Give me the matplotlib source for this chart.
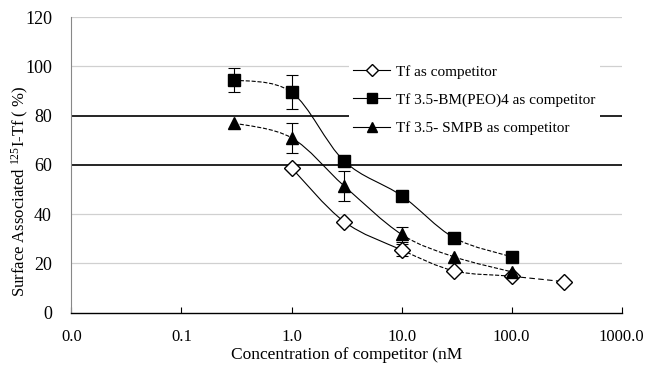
import numpy as np
import matplotlib
matplotlib.use("Agg")
import matplotlib.pyplot as plt
from matplotlib.path import Path
from matplotlib.patches import PathPatch
from matplotlib.lines import Line2D

plt.rcParams['font.family'] = ['Liberation Serif', 'DejaVu Serif']
plt.rcParams['mathtext.fontset'] = 'custom'
plt.rcParams['mathtext.rm'] = 'Liberation Serif'
plt.rcParams['mathtext.it'] = 'Liberation Serif:italic'

# ---------- data ----------
tf_conc = [1, 3, 10, 30, 100, 300]
tf_val = [58.8, 37.0, 25.5, 17.0, 14.8, 12.6]
tf_err = [0, 0, 2.5, 0, 0, 0]
tf_styles = ['-', '-', '--', '--', (0, (5, 3))]

bm_conc = [0.3, 1, 3, 10, 30, 100]
bm_val = [94.5, 89.5, 61.6, 47.5, 30.4, 22.7]
bm_err = [5.0, 7.0, 0, 0, 0, 0]
bm_styles = ['--', '-', '-', '-', '--']

smpb_conc = [0.3, 1, 3, 10, 30, 100]
smpb_val = [77.0, 71.0, 51.5, 31.8, 22.7, 16.6]
smpb_err = [0, 6.0, 6.0, 3.0, 0, 0]
smpb_styles = ['--', '-', '-', '--', '--']

labels = ["Tf as competitor", "Tf 3.5-BM(PEO)4 as competitor", "Tf 3.5- SMPB as competitor"]
xticks = [0.01, 0.1, 1, 10, 100, 1000]
xticklabels = ["0.0", "0.1", "1.0", "10.0", "100.0", "1000.0"]
yticks = [0, 20, 40, 60, 80, 100, 120]


def smooth_segments(ax, xs, ys, styles):
    # Excel style smoothed line: Catmull-Rom -> cubic bezier in log-x space
    lx = np.log10(xs)
    y = np.asarray(ys, dtype=float)
    n = len(lx)
    for i in range(n - 1):
        p0 = (lx[max(i - 1, 0)], y[max(i - 1, 0)])
        p1 = (lx[i], y[i])
        p2 = (lx[i + 1], y[i + 1])
        p3 = (lx[min(i + 2, n - 1)], y[min(i + 2, n - 1)])
        c1 = (p1[0] + (p2[0] - p0[0]) / 6, p1[1] + (p2[1] - p0[1]) / 6)
        c2 = (p2[0] - (p3[0] - p1[0]) / 6, p2[1] - (p3[1] - p1[1]) / 6)
        verts = [(10 ** p[0], p[1]) for p in (p1, c1, c2, p2)]
        path = Path(verts, [Path.MOVETO, Path.CURVE4, Path.CURVE4, Path.CURVE4])
        ax.add_patch(PathPatch(path, facecolor='none', edgecolor='black',
                               lw=0.8, linestyle=styles[i], zorder=2))


fig = plt.figure(figsize=(6.49, 3.71), dpi=100)
ax = fig.add_axes([0.110, 0.157, 0.848, 0.797])

ax.set_xscale('log')
ax.set_xlim(0.01, 1000)
ax.set_ylim(0, 120)

# grid lines (60 and 80 appear dark in the original)
for yv in yticks[1:]:
    if yv in (60, 80):
        ax.axhline(yv, color='black', lw=1.2, zorder=0)
    else:
        ax.axhline(yv, color='#d0d0d0', lw=0.9, zorder=0)

series = [
    (tf_conc, tf_val, tf_err, tf_styles, dict(marker='D', ms=8, mfc='white', mec='black', mew=1.0)),
    (bm_conc, bm_val, bm_err, bm_styles, dict(marker='s', ms=9, mfc='black', mec='black')),
    (smpb_conc, smpb_val, smpb_err, smpb_styles, dict(marker='^', ms=9, mfc='black', mec='black')),
]

for xs, ys, errs, styles, mk in series:
    smooth_segments(ax, xs, ys, styles)
    for x, yv, e in zip(xs, ys, errs):
        if e > 0:
            ax.errorbar([x], [yv], yerr=[e], fmt='none', ecolor='black',
                        elinewidth=0.8, capsize=4, capthick=0.8, zorder=3)
    ax.plot(xs, ys, linestyle='none', zorder=4, **mk)

ax.set_xticks(xticks)
ax.set_xticklabels(xticklabels)
ax.minorticks_off()
ax.set_yticks(yticks)
ax.tick_params(axis='x', direction='in', length=4, labelsize=12, pad=12)
ax.tick_params(axis='y', length=0, labelsize=13, pad=14)

for s in ['top', 'right']:
    ax.spines[s].set_visible(False)
ax.spines['left'].set_color('#888888')
ax.spines['bottom'].set_linewidth(1.0)

ax.set_xlabel("Concentration of competitor (nM", fontsize=12.5, labelpad=1)
ax.set_ylabel(r"Surface Associated $^{\mathrm{125}}$I-Tf ( %)", fontsize=12)
ax.yaxis.set_label_coords(-0.073, 0.41)

handles = [
    Line2D([], [], color='black', lw=0.8, **series[0][4]),
    Line2D([], [], color='black', lw=0.8, **series[1][4]),
    Line2D([], [], color='black', lw=0.8, **series[2][4]),
]
for h in handles:
    h.set_markersize(h.get_markersize() * 0.8)
leg = ax.legend(handles, labels, loc='upper left', bbox_to_anchor=(0.49, 0.88),
                frameon=True, facecolor='white', edgecolor='none', framealpha=1,
                fontsize=11, handlelength=2.4, handletextpad=0.4,
                labelspacing=0.95, borderpad=0.3)
leg.set_zorder(5)

fig.savefig("out.png", dpi=100)
